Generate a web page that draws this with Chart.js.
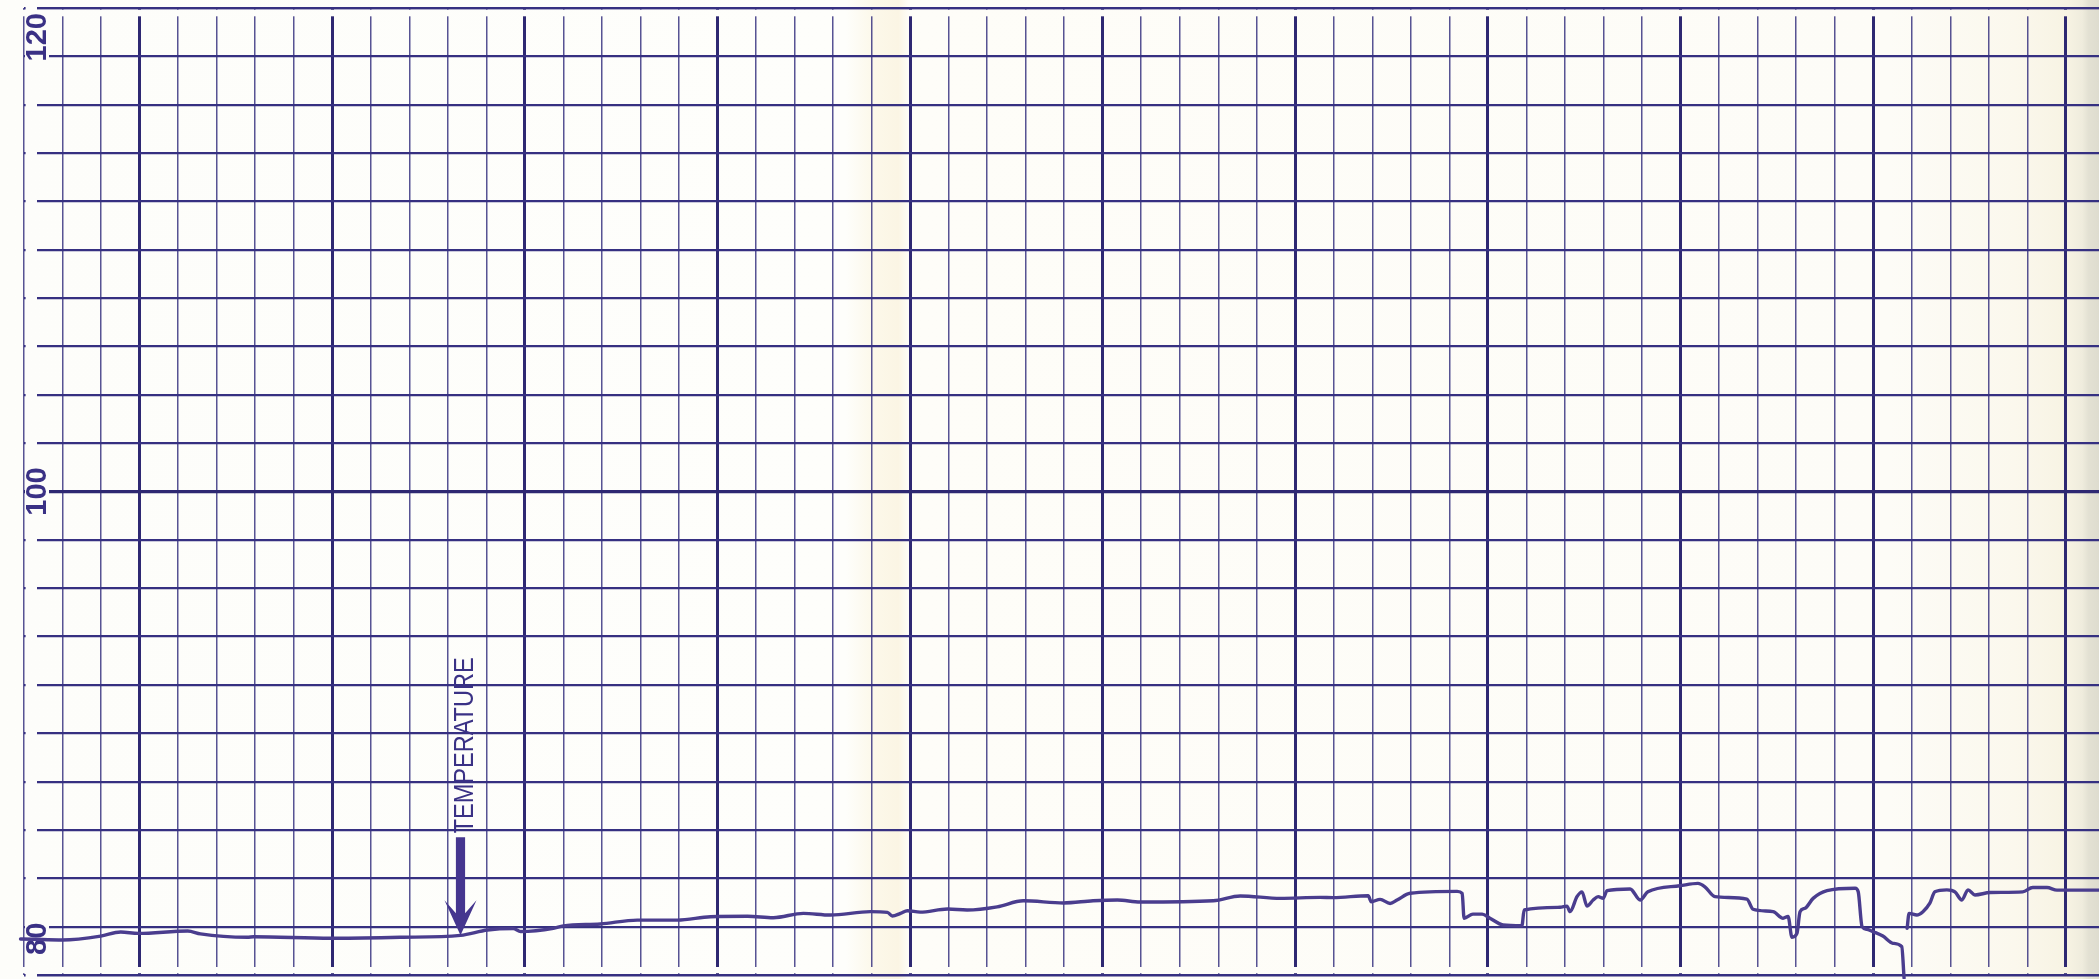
<!DOCTYPE html>
<html>
<head>
<meta charset="utf-8">
<title>Temperature strip chart</title>
<script src="https://cdn.jsdelivr.net/npm/chart.js@4.4.1/dist/chart.umd.min.js"></script>
<style>
  html, body { margin: 0; padding: 0; background: #fdfdfa; }
  #wrap { position: relative; width: 2099px; height: 979px; }
</style>
</head>
<body>
<div id="wrap"><canvas id="chart"></canvas></div>
<script>
// Recorder trace. Horizontal position is in chart divisions (heavy rule every 5).
const timeDiv = [
  -3.61, -3.09, -2.00, -1.01, -0.49, -0.03, 1.25, 1.58, 2.80, 2.96,
  4.96, 6.77, 8.33, 9.03, 9.70, 9.89, 10.74, 11.00, 11.96, 12.92,
  13.96, 14.82, 15.78, 16.45, 17.23, 17.93, 18.97, 19.41, 19.54, 19.75,
  19.93, 20.26, 20.97, 21.48, 22.26, 22.94, 23.98, 24.75, 25.38, 25.97,
  27.87, 28.57, 29.61, 30.64, 30.98, 31.89, 31.97, 32.20, 32.46, 32.64,
  32.98, 34.20, 34.33, 34.38, 34.61, 34.85, 35.05, 35.39, 35.88, 35.94,
  36.87, 37.05, 37.13, 37.31, 37.44, 37.57, 37.73, 37.86, 37.99, 38.09,
  38.69, 38.95, 39.15, 39.98, 40.45, 40.63, 40.89, 41.72, 41.88, 42.40,
  42.66, 42.79, 42.89, 43.02, 43.10, 43.23, 43.44, 43.80, 44.53, 44.61,
  44.71, 44.84, 45.00, 45.25, 45.51, 45.74, 45.80, 45.85, 45.88, 45.93,
  46.13, 46.29, 46.47, 46.60, 46.91, 47.12, 47.30, 47.46, 47.64, 48.03,
  48.88, 49.14, 49.51, 49.77, 50.86
];
const temperature = [
  81.48, 81.49, 81.45, 81.61, 81.78, 81.72, 81.82, 81.70, 81.56, 81.58,
  81.52, 81.56, 81.64, 81.86, 81.92, 81.80, 81.93, 82.03, 82.11, 82.27,
  82.27, 82.41, 82.43, 82.37, 82.55, 82.48, 82.62, 82.59, 82.44, 82.55,
  82.66, 82.60, 82.73, 82.69, 82.82, 83.07, 82.98, 83.07, 83.10, 83.02,
  83.07, 83.27, 83.17, 83.21, 83.20, 83.28, 83.03, 83.13, 82.96, 83.10,
  83.38, 83.46, 83.38, 82.35, 82.52, 82.52, 82.35, 82.07, 82.04, 82.69,
  82.80, 82.85, 82.62, 83.24, 83.44, 82.85, 83.10, 83.24, 83.17, 83.49,
  83.56, 83.10, 83.44, 83.69, 83.79, 83.65, 83.24, 83.14, 82.72, 82.62,
  82.35, 82.42, 81.56, 81.72, 82.62, 82.76, 83.17, 83.49, 83.59, 83.44,
  82.00, 81.89, 81.79, 81.61, 81.31, 81.17, 79.88, null, 81.93, 82.55,
  82.48, 82.62, 82.97, 83.44, 83.52, 83.44, 83.10, 83.52, 83.31, 83.41,
  83.44, 83.62, 83.62, 83.51, 83.51
];

// Printed scale figures on the paper
const yTickLabels = [120, 100, 80];
const yMin = 80, yMax = 120, yStep = 2;

// Ruled divisions across the strip
const xFirstRule = -3, xLastRule = 50, xMajorEvery = 5;
const xMin = -3, xMax = 50.86;

// Pen annotation
const markerLabel = 'TEMPERATURE';
const markerAt = 8.33;

const RULE_INK = '#363081';
const RULE_MAJOR = '#2e2872';
const RULE_MINOR = 'rgba(50,45,125,0.82)';
const TRACE_INK = '#4a3d8e';
const LABEL_INK = '#3a3185';

function paperFill(ctx, w) {
  const g = ctx.createLinearGradient(0, 0, w, 0);
  g.addColorStop(0, '#fdfdfa');
  g.addColorStop(0.403, '#fefefb');
  g.addColorStop(0.416, '#fcf8ea');
  g.addColorStop(0.428, '#fbf5e4');
  g.addColorStop(0.433, '#fefdf8');
  g.addColorStop(0.9, '#fdfcf7');
  g.addColorStop(0.96, '#fbf8ed');
  g.addColorStop(0.985, '#f7f3e3');
  g.addColorStop(0.992, '#efecdd');
  g.addColorStop(0.995, '#e3e1d3');
  g.addColorStop(1, '#dedccf');
  return g;
}

function valueAt(x) {
  for (let i = 1; i < timeDiv.length; i++) {
    const a = temperature[i - 1], b = temperature[i];
    if (a == null || b == null) continue;
    if (x >= timeDiv[i - 1] && x <= timeDiv[i]) {
      const t = (x - timeDiv[i - 1]) / (timeDiv[i] - timeDiv[i - 1]);
      return a + t * (b - a);
    }
  }
  return temperature[0];
}

const xRules = [];
for (let v = xFirstRule; v <= xLastRule; v++) xRules.push(v);
const yRules = [];
for (let v = yMin; v <= yMax; v += yStep) yRules.push(v);

// Paper tone behind everything
const paperPlugin = {
  id: 'paper',
  beforeDraw(chart) {
    const { ctx, width, height } = chart;
    ctx.save();
    ctx.fillStyle = paperFill(ctx, width);
    ctx.fillRect(0, 0, width, height);
    ctx.restore();
  }
};

// Paper margins and the printed scale figures
const marginPlugin = {
  id: 'margins',
  beforeDatasetsDraw(chart) {
    const { ctx, chartArea: a, scales: { y } } = chart;
    const paper = paperFill(ctx, chart.width);
    ctx.save();
    ctx.fillStyle = paper;
    // unruled margin left of the horizontal rules
    ctx.fillRect(a.left + 1.6, a.top - 3, 11.4, a.bottom - a.top + 6);
    // division rules stop short of the border rules
    ctx.fillRect(a.left - 3, a.top + 1.8, a.right - a.left + 6, 6.5);
    ctx.fillRect(a.left - 3, a.bottom - 8, a.right - a.left + 6, 6.2);

    ctx.font = 'bold 29px "Liberation Sans", Arial, sans-serif';
    yTickLabels.forEach(v => {
      const text = String(v);
      const len = ctx.measureText(text).width;
      const half = len / 2;
      let cy = y.getPixelForValue(v);
      cy = Math.min(Math.max(cy, a.top + half + 5), a.bottom - half - 20);
      const baseX = a.left + 22;
      ctx.fillStyle = paper;
      ctx.fillRect(baseX - 21, cy - half - 2, 24, len + 4);
      ctx.save();
      ctx.translate(baseX, cy);
      ctx.rotate(-Math.PI / 2);
      ctx.fillStyle = LABEL_INK;
      ctx.textAlign = 'center';
      ctx.textBaseline = 'alphabetic';
      ctx.fillText(text, 0, 0);
      ctx.restore();
    });
    ctx.restore();
  }
};

// Arrow and caption pointing at the pen trace
const markerPlugin = {
  id: 'marker',
  afterDatasetsDraw(chart) {
    const { ctx, scales: { x, y } } = chart;
    const px = x.getPixelForValue(markerAt);
    const tipY = y.getPixelForValue(valueAt(markerAt));
    const tailY = tipY - 98;
    const barbY = tipY - 35;
    const notchY = tipY - 22;
    const shaft = 4.6, barb = 16;
    ctx.save();
    ctx.fillStyle = '#45368f';
    ctx.beginPath();
    ctx.moveTo(px - shaft, tailY);
    ctx.lineTo(px + shaft, tailY);
    ctx.lineTo(px + shaft, notchY);
    ctx.lineTo(px + barb, barbY);
    ctx.lineTo(px, tipY);
    ctx.lineTo(px - barb, barbY);
    ctx.lineTo(px - shaft, notchY);
    ctx.closePath();
    ctx.fill();

    ctx.font = '28px "Liberation Sans", Arial, sans-serif';
    const w = ctx.measureText(markerLabel).width;
    const k = 176 / w;
    ctx.translate(px + 13, tailY - 4);
    ctx.rotate(-Math.PI / 2);
    ctx.scale(k, 1);
    ctx.fillStyle = LABEL_INK;
    ctx.textAlign = 'left';
    ctx.textBaseline = 'alphabetic';
    ctx.fillText(markerLabel, 0, 0);
    ctx.restore();
  }
};

new Chart(document.getElementById('chart'), {
  type: 'line',
  data: {
    datasets: [{
      label: markerLabel,
      data: timeDiv.map((t, i) => ({ x: t, y: temperature[i] })),
      borderColor: TRACE_INK,
      borderWidth: 3.4,
      pointRadius: 0,
      cubicInterpolationMode: 'monotone',
      spanGaps: false,
      clip: false,
      borderJoinStyle: 'round',
      borderCapStyle: 'round'
    }]
  },
  options: {
    responsive: true,
    maintainAspectRatio: false,
    animation: false,
    devicePixelRatio: 1,
    layout: { padding: { left: 24, right: 0, top: 8, bottom: 4 } },
    plugins: {
      legend: { display: false },
      tooltip: { enabled: false },
      title: { display: false }
    },
    scales: {
      x: {
        type: 'linear',
        min: xMin,
        max: xMax,
        bounds: 'data',
        afterBuildTicks: ax => { ax.ticks = xRules.map(v => ({ value: v })); },
        ticks: { display: false },
        border: { display: false },
        grid: {
          drawTicks: false,
          color: c => (c.tick.value % xMajorEvery === 0 ? RULE_MAJOR : RULE_MINOR),
          lineWidth: c => (c.tick.value % xMajorEvery === 0 ? 3 : 1.5)
        }
      },
      y: {
        type: 'linear',
        min: yMin,
        max: yMax,
        afterBuildTicks: ax => { ax.ticks = yRules.map(v => ({ value: v })); },
        ticks: { display: false },
        border: { display: false },
        grid: {
          drawTicks: false,
          color: c => (c.tick.value === 100 ? RULE_MAJOR : RULE_INK),
          lineWidth: c => (c.tick.value === 100 ? 3.2 : (c.tick.value === yMin || c.tick.value === yMax ? 2.6 : 2.2))
        }
      }
    }
  },
  plugins: [paperPlugin, marginPlugin, markerPlugin]
});
</script>
</body>
</html>
